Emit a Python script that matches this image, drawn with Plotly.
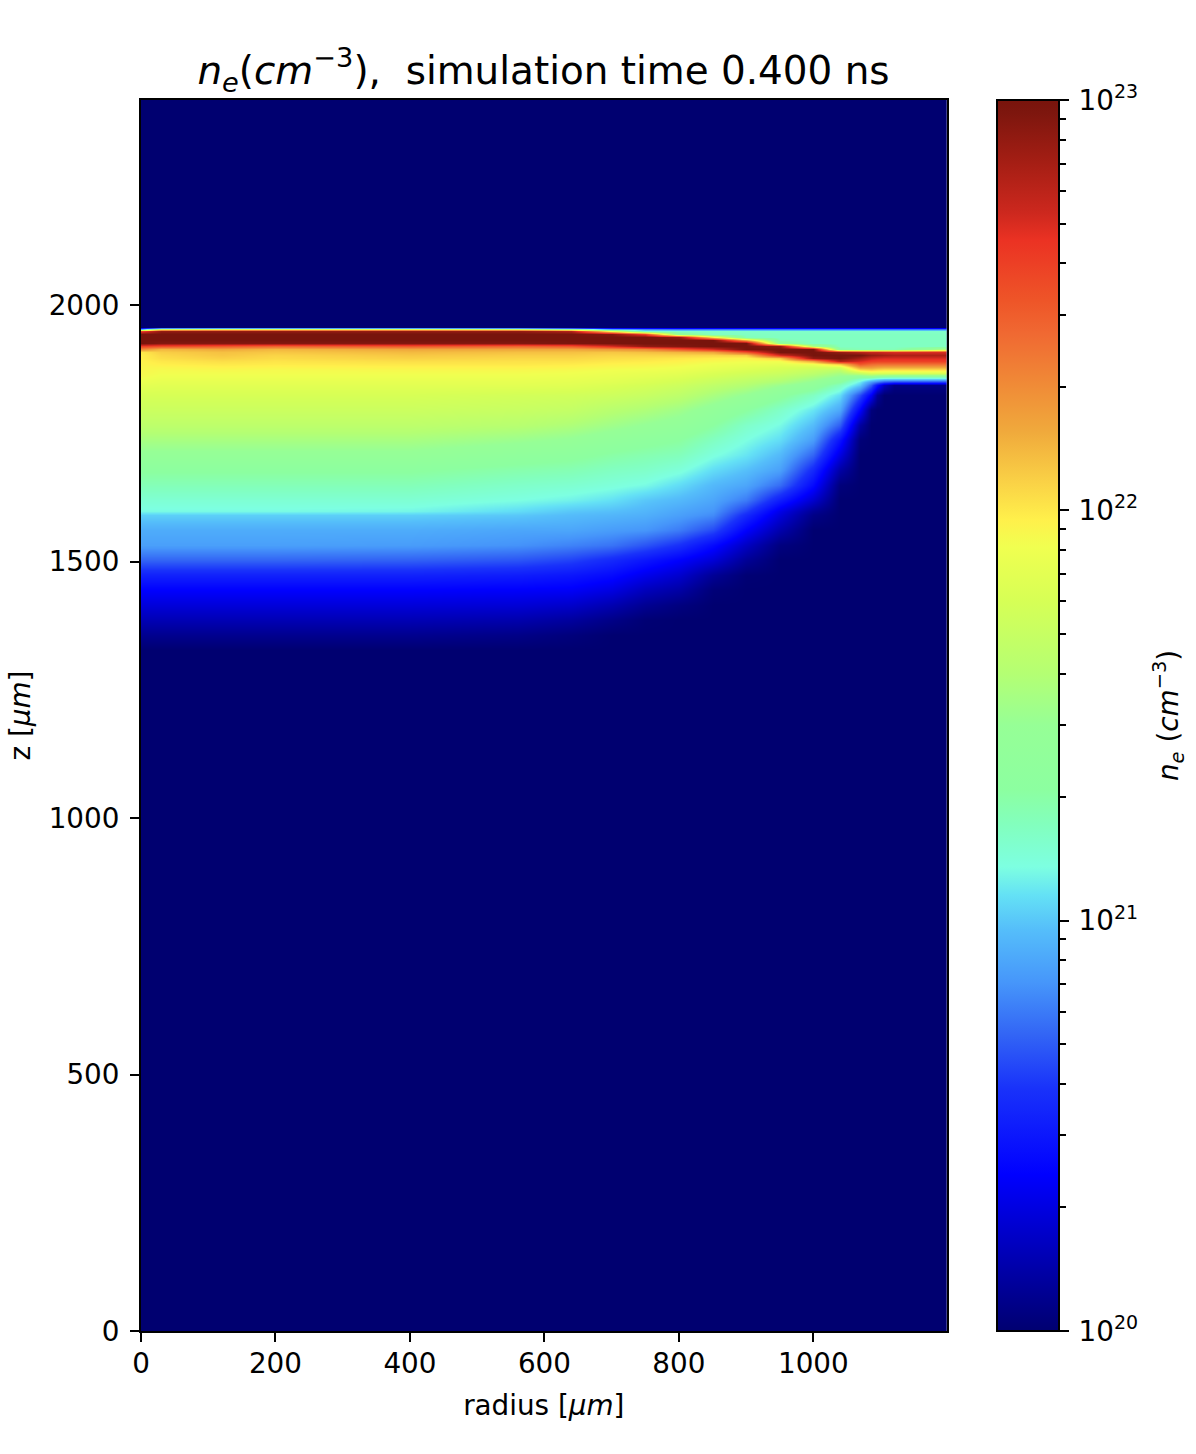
import numpy as np
import plotly.graph_objects as go

# axis values (um): radial columns and axial rows (rows listed top to bottom)
radius = [0, 30, 120, 200, 400, 560, 640, 700, 750, 800, 850, 900, 950, 1000,
          1040, 1070, 1085, 1095, 1105, 1120, 1200]
z_rows = [1957.5, 1953.6, 1949.7, 1943.9, 1938, 1932, 1926, 1920.5, 1914.6, 1908.8,
          1903, 1897, 1891, 1885, 1879.6, 1873.7, 1868, 1862, 1856, 1850,
          1844, 1825, 1796, 1766, 1737, 1708, 1679, 1649.5, 1620, 1599,
          1591, 1562, 1532.5, 1503, 1474, 1445, 1415.5, 1386, 1357, 1328]
z_top = 2400
z_bottom = 0
log_ne_floor = 20

# log10(ne), one list per radius, over z_rows
ne_r0 = [20,20.9,22.6,23,23,23,23,22.6,22.3,22.0,21.98,21.98,21.97,21.96,21.95,21.95,21.94,21.93,21.9,21.88,
         21.85,21.78,21.72,21.65,21.55,21.45,21.33,21.25,21.17,21.12,21.02,20.92,20.88,20.72,20.52,20.38,20.28,20.18,20.08,20]
ne_r30 = [20,21.7,22.9,23,23,23,22.95,22.55,22.15,22.08,22.05,22.03,22.0,21.98,21.95,21.93,21.92,21.9,21.88,21.86,
          21.84,21.78,21.72,21.65,21.55,21.45,21.33,21.25,21.17,21.12,21.02,20.92,20.88,20.72,20.52,20.38,20.28,20.18,20.08,20]
ne_r120 = [20,21.8,22.9,23,23,23,22.95,22.5,22.2,22.12,22.1,22.07,22.03,22.0,21.97,21.94,21.92,21.9,21.88,21.86,
           21.84,21.78,21.72,21.65,21.55,21.45,21.33,21.25,21.17,21.12,21.02,20.92,20.88,20.72,20.52,20.38,20.28,20.18,20.08,20]
ne_r200 = [20,21.8,22.9,23,23,23,22.95,22.45,22.15,22.1,22.06,22.04,22.01,21.99,21.96,21.93,21.92,21.9,21.88,21.86,
           21.84,21.78,21.72,21.65,21.55,21.45,21.33,21.25,21.17,21.12,21.02,20.92,20.88,20.72,20.52,20.38,20.28,20.18,20.08,20]
ne_r400 = [20,21.8,22.9,23,23,23,22.95,22.5,22.2,22.14,22.1,22.07,22.03,22.0,21.97,21.94,21.92,21.9,21.88,21.86,
           21.84,21.78,21.72,21.65,21.55,21.45,21.33,21.25,21.17,21.11,21.02,20.92,20.87,20.71,20.52,20.38,20.28,20.18,20.08,20]
ne_r560 = [20,21.7,22.9,23,23,23,22.95,22.45,22.2,22.12,22.08,22.05,22.02,22.0,21.97,21.94,21.92,21.9,21.88,21.86,
           21.84,21.76,21.7,21.62,21.5,21.38,21.28,21.2,21.13,21.05,21.0,20.9,20.84,20.68,20.5,20.37,20.27,20.16,20.06,20]
ne_r640 = [20,21.4,22.8,23,23,23,22.98,22.5,22.2,22.12,22.08,22.05,22.02,21.99,21.96,21.93,21.91,21.89,21.87,21.85,
           21.83,21.75,21.68,21.58,21.46,21.35,21.26,21.18,21.1,21.0,20.97,20.9,20.8,20.63,20.47,20.36,20.24,20.12,20.03,20]
ne_r700 = [20,20.9,21.9,22.95,23,23,23,22.7,22.25,22.1,22.06,22.03,22.0,21.97,21.94,21.91,21.89,21.87,21.85,21.83,
           21.8,21.73,21.62,21.52,21.4,21.3,21.22,21.15,21.06,20.98,20.95,20.87,20.76,20.55,20.42,20.3,20.17,20.06,20,20]
ne_r750 = [20,20.8,21.2,22.6,23,23,23,22.9,22.3,22.12,22.06,22.02,21.99,21.96,21.93,21.9,21.87,21.85,21.82,21.8,
           21.77,21.7,21.58,21.47,21.36,21.27,21.2,21.12,21.0,20.95,20.93,20.85,20.68,20.47,20.33,20.2,20.09,20.01,20,20]
ne_r800 = [20,20.75,21.2,21.4,22.9,23,23,22.95,22.5,22.15,22.06,22.0,21.97,21.94,21.91,21.88,21.85,21.82,21.79,21.76,
           21.73,21.65,21.52,21.42,21.32,21.24,21.15,21.05,20.96,20.9,20.88,20.78,20.58,20.38,20.25,20.14,20.04,20,20,20]
ne_r850 = [20,20.75,21.2,21.22,22.0,23,23,23,22.7,22.2,22.05,21.98,21.94,21.9,21.87,21.84,21.8,21.77,21.73,21.7,
           21.66,21.56,21.42,21.32,21.22,21.14,21.05,20.96,20.9,20.85,20.82,20.65,20.42,20.27,20.1,20.02,20,20,20,20]
ne_r900 = [20,20.75,21.2,21.22,21.25,22.2,23,23,23,22.5,22.08,21.96,21.92,21.88,21.84,21.8,21.76,21.72,21.68,21.64,
           21.6,21.47,21.32,21.2,21.13,21.07,20.98,20.9,20.78,20.62,20.55,20.38,20.22,20.1,20.01,20,20,20,20,20]
ne_r950 = [20,20.75,21.2,21.22,21.22,21.25,21.4,22.9,23,23,22.7,22.1,21.92,21.86,21.8,21.76,21.72,21.67,21.62,21.57,
           21.5,21.35,21.2,21.12,21.05,20.96,20.88,20.74,20.5,20.32,20.28,20.16,20.04,20,20,20,20,20,20,20]
ne_r1000 = [20,20.75,21.2,21.22,21.22,21.22,21.22,21.6,23,23,23,22.9,22.2,21.9,21.78,21.7,21.65,21.58,21.52,21.46,
            21.4,21.22,21.07,20.97,20.87,20.72,20.55,20.42,20.25,20.1,20.06,20,20,20,20,20,20,20,20,20]
ne_r1040 = [20,20.75,21.2,21.22,21.22,21.22,21.22,21.22,21.3,22.9,23,23,22.8,22.1,21.8,21.65,21.55,21.48,21.4,21.32,
            21.22,21.05,20.9,20.7,20.45,20.3,20.14,20.03,20,20,20,20,20,20,20,20,20,20,20,20]
ne_r1070 = [20,20.75,21.2,21.22,21.22,21.22,21.22,21.22,21.25,22.8,23,22.85,22.7,22.5,22.25,22.0,21.7,21.4,21.2,21.08,
            21.0,20.65,20.38,20.13,20.02,20,20,20,20,20,20,20,20,20,20,20,20,20,20,20]
ne_r1085 = [20,20.75,21.2,21.22,21.22,21.22,21.22,21.22,21.25,22.75,22.9,22.75,22.62,22.42,22.25,22.05,21.8,21.45,21.1,20.85,
            20.7,20.36,20.03,20,20,20,20,20,20,20,20,20,20,20,20,20,20,20,20,20]
ne_r1095 = [20,20.75,21.2,21.22,21.22,21.22,21.22,21.22,21.25,22.75,22.88,22.72,22.6,22.4,22.22,22.02,21.8,21.4,21.05,20.75,
            20.45,20.1,20,20,20,20,20,20,20,20,20,20,20,20,20,20,20,20,20,20]
ne_r1105 = [20,20.75,21.2,21.22,21.22,21.22,21.22,21.22,21.25,22.72,22.85,22.7,22.6,22.4,22.2,22.0,21.8,21.38,21.0,20.65,
            20.2,20,20,20,20,20,20,20,20,20,20,20,20,20,20,20,20,20,20,20]
ne_r1120 = [20,20.75,21.2,21.22,21.22,21.22,21.22,21.22,21.25,22.7,22.82,22.7,22.6,22.4,22.2,22.0,21.8,21.35,21.0,20.6,
            20.05,20,20,20,20,20,20,20,20,20,20,20,20,20,20,20,20,20,20,20]
ne_r1200 = [20,20.75,21.2,21.22,21.22,21.22,21.22,21.22,21.6,22.7,22.82,22.7,22.6,22.4,22.2,22.0,21.8,21.35,21.0,20.6,
            20.05,20,20,20,20,20,20,20,20,20,20,20,20,20,20,20,20,20,20,20]

columns = [ne_r0, ne_r30, ne_r120, ne_r200, ne_r400, ne_r560, ne_r640, ne_r700, ne_r750, ne_r800, ne_r850,
           ne_r900, ne_r950, ne_r1000, ne_r1040, ne_r1070, ne_r1085, ne_r1095, ne_r1105, ne_r1120, ne_r1200]

# colour stops
cbar_stops = [
    (0.0, "rgb(0,0,112)"), (0.127, "rgb(0,0,255)"), (0.197, "rgb(25,50,250)"), (0.24, "rgb(50,100,245)"),
    (0.283, "rgb(70,150,250)"), (0.326, "rgb(85,190,250)"), (0.354, "rgb(100,225,245)"), (0.377, "rgb(125,255,225)"),
    (0.411, "rgb(130,255,190)"), (0.44, "rgb(140,255,160)"), (0.492, "rgb(150,255,150)"), (0.534, "rgb(180,255,115)"),
    (0.594, "rgb(215,255,85)"), (0.637, "rgb(240,255,80)"), (0.659, "rgb(255,240,75)"), (0.689, "rgb(250,210,70)"),
    (0.73, "rgb(240,170,60)"), (0.767, "rgb(240,140,55)"), (0.81, "rgb(240,105,50)"), (0.837, "rgb(238,85,40)"),
    (0.886, "rgb(235,50,35)"), (0.908, "rgb(205,40,30)"), (0.949, "rgb(165,30,20)"), (0.99, "rgb(125,22,14)"),
    (1.0, "rgb(120,20,12)"),
]

x_ticks = [0, 200, 400, 600, 800, 1000]
y_ticks = [0, 500, 1000, 1500, 2000]
x_range = [0, 1198]
y_range = [0, 2400]
cbar_range = [20, 23]
cbar_ticks = [1e20, 1e21, 1e22, 1e23]
cbar_labels = ["20", "21", "22", "23"]

title_text = "<i>n<sub>e</sub></i>(<i>cm</i><sup>\u22123</sup>),\u00a0\u00a0simulation time 0.400 ns"
x_title = "radius [<i>\u03bcm</i>]"
y_title = "z [<i>\u03bcm</i>]"
cbar_title = "<i>n<sub>e</sub></i> (<i>cm</i><sup>\u22123</sup>)"

W, H = 1196, 1454
L, R, T, B = 141, 946.5, 100, 1331
CL, CR = 997, 1059
FONT = "DejaVu Sans"
FS = 27.8

table = np.array(columns, dtype=float).T          # rows = z (top to bottom), cols = radius
full = np.vstack([np.full(len(radius), log_ne_floor), table, np.full(len(radius), log_ne_floor)])
z_full = [z_top] + z_rows + [z_bottom]
full = full[::-1]
z_full = z_full[::-1]

fig = go.Figure()
fig.add_trace(go.Heatmap(
    x=radius, y=z_full, z=full, zmin=cbar_range[0], zmax=cbar_range[1], zsmooth="best",
    colorscale=[[a, c] for a, c in cbar_stops], hoverinfo="skip",
    colorbar=dict(x=CL / W, xanchor="left", xpad=0, y=(H - B) / H, yanchor="bottom", ypad=0,
                  thicknessmode="pixels", thickness=CR - CL, lenmode="fraction", len=(B - T) / H,
                  outlinewidth=2, outlinecolor="black", ticks="", showticklabels=False),
))
# log axis that carries the colour bar's decade and minor ticks
fig.add_trace(go.Scatter(x=[0, 1], y=[cbar_ticks[0], cbar_ticks[-1]], xaxis="x2", yaxis="y2",
                         mode="markers", marker=dict(opacity=0), hoverinfo="skip", showlegend=False))

axis_common = dict(showgrid=False, zeroline=False, showline=True, linecolor="black", linewidth=2, mirror=True,
                   ticks="outside", ticklen=9, tickwidth=2, tickcolor="black",
                   tickfont=dict(family=FONT, size=FS, color="black"))
fig.update_layout(
    width=W, height=H, paper_bgcolor="white", plot_bgcolor=cbar_stops[0][1],
    margin=dict(l=0, r=0, t=0, b=0, autoexpand=False), showlegend=False,
    font=dict(family=FONT, color="black"),
    title=dict(text=title_text, x=543.5 / W, xanchor="center", xref="paper", y=1 - 70 / H, yanchor="middle",
               font=dict(family=FONT, size=38.9, color="black")),
    xaxis=dict(domain=[L / W, R / W], range=x_range, tickmode="array", tickvals=x_ticks, ticklabelstandoff=-2,
               title=dict(text=x_title, standoff=16, font=dict(family=FONT, size=FS, color="black")), **axis_common),
    yaxis=dict(domain=[(H - B) / H, (H - T) / H], range=y_range, tickmode="array", tickvals=y_ticks,
               ticklabelstandoff=5,
               title=dict(text=y_title, standoff=10, font=dict(family=FONT, size=FS, color="black")), **axis_common),
    xaxis2=dict(domain=[CL / W, CR / W], range=[0, 1], visible=False, anchor="y2"),
    yaxis2=dict(domain=[(H - B) / H, (H - T) / H], type="log", range=cbar_range, anchor="x2", side="right",
                tickmode="array", tickvals=cbar_ticks,
                ticktext=[f"10<sup><span style='font-size:19px'>{e}</span></sup>" for e in cbar_labels],
                showgrid=False, zeroline=False, showline=False, ticklabelstandoff=4,
                ticks="outside", ticklen=9, tickwidth=2, tickcolor="black",
                tickfont=dict(family=FONT, size=FS, color="black"),
                minor=dict(ticks="outside", ticklen=5.5, tickwidth=1.5, tickcolor="black", dtick="D1", showgrid=False)),
    annotations=[dict(text=cbar_title, xref="paper", yref="paper", x=1168 / W, y=1 - 716 / H,
                      xanchor="center", yanchor="middle", textangle=-90, showarrow=False,
                      font=dict(family=FONT, size=FS, color="black"))],
)
fig.write_html("out.html", post_script="document.body.style.margin='0';", config=dict(displayModeBar=False))
